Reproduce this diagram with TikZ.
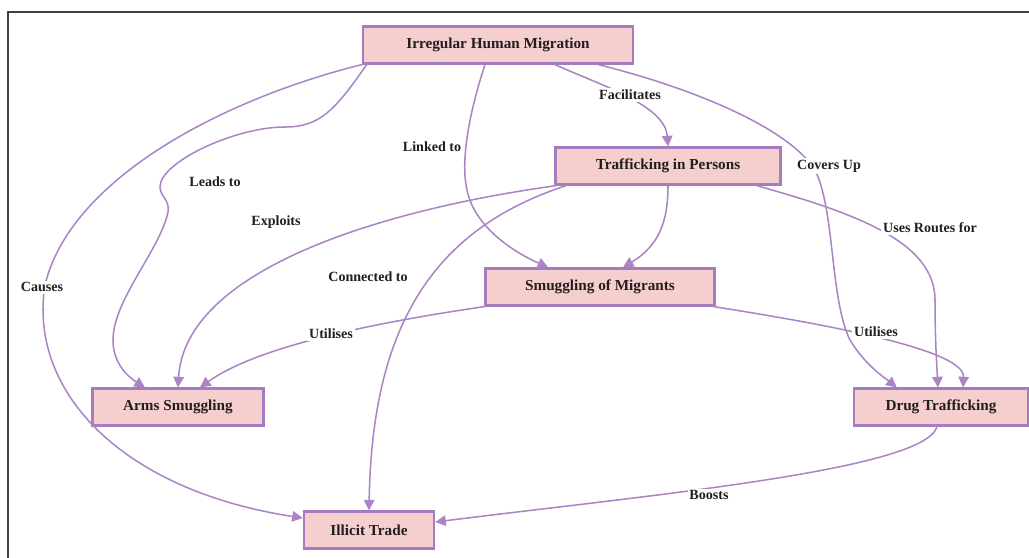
\documentclass[tikz,border=0pt]{standalone}
\usepackage{fontspec}
\setmainfont{Liberation Serif}
\usetikzlibrary{arrows.meta,calc}
\definecolor{boxfill}{RGB}{245,206,206}
\definecolor{boxline}{RGB}{165,125,190}
\definecolor{linkline}{RGB}{170,132,196}
\definecolor{inktext}{RGB}{35,30,30}

\begin{document}
\begin{tikzpicture}[x=0.03cm, y=-0.03cm,
    box/.style={draw=boxline, fill=boxfill, line width=2.2pt, minimum height=1.1cm,
        inner sep=0pt, text=inktext, font=\fontsize{13}{15}\selectfont\bfseries},
    link/.style={draw=linkline, line width=1.3pt, -{Triangle[length=9pt,width=9pt]}},
    lab/.style={fill=white, inner sep=1.5pt, text=inktext, font=\fontsize{12}{14}\selectfont\bfseries}]
    \useasboundingbox (0,0) rectangle (1029,558);

    % frame
    \draw[line width=1.2pt, black!75] (8,558) -- (8,12) -- (1029,12);

    % boxes
    \node[box, minimum width=8.1cm]  (ihm)     at (498,45)  {Irregular Human Migration};
    \node[box, minimum width=6.75cm] (tip)     at (668,166) {Trafficking in Persons};
    \node[box, minimum width=6.87cm] (som)     at (600,287) {Smuggling of Migrants};
    \node[box, minimum width=5.13cm] (arms)    at (178,407) {Arms Smuggling};
    \node[box, minimum width=5.22cm] (drug)    at (941,407) {Drug Trafficking};
    \node[box, minimum width=3.9cm]  (illicit) at (369,530) {Illicit Trade};

    % links
    \draw[link] ($(ihm.south west)+(5,0)$) .. controls (335,110) and (320,127) .. (285,127)
        .. controls (235,127) and (160,162) .. (160,187)
        .. controls (160,196) and (170,200) .. (168,212)
        .. controls (160,250) and (113,300) .. (113,340)
        .. controls (113,365) and (130,378) .. ($(arms.north)+(-33,0)$);
    \draw[link] (ihm.south west) .. controls (220,100) and (70,180) .. (45,285)
        .. controls (28,390) and (120,490) .. ($(illicit.west)+(0,-12)$);
    \draw[link] ($(ihm.south)+(-13,0)$) .. controls (470,110) and (460,160) .. (467,190)
        .. controls (475,230) and (520,255) .. ($(som.north west)+(64,0)$);
    \draw[link] ($(ihm.south)+(57,0)$) .. controls (600,85) and (665,105) .. (tip.north);
    \draw[link] ($(ihm.south east)+(-36,0)$) .. controls (700,90) and (790,130) .. (815,170)
        .. controls (835,210) and (830,300) .. (850,340)
        .. controls (865,365) and (885,378) .. ($(drug.north west)+(44,0)$);
    \draw[link] (tip.south) .. controls (668,220) and (660,245) .. ($(som.north)+(23,0)$);
    \draw[link] ($(tip.south west)+(2,0)$) .. controls (380,210) and (185,270) .. (arms.north);
    \draw[link] ($(tip.south west)+(12,0)$) .. controls (430,230) and (372,330) .. (illicit.north);
    \draw[link] ($(tip.south east)+(-25,0)$) .. controls (850,212) and (935,240) .. (935,300)
        .. controls (935,340) and (937,370) .. ($(drug.north)+(-3,0)$);
    \draw[link] (som.south west) .. controls (380,322) and (260,345) .. ($(arms.north)+(22,0)$);
    \draw[link] ($(som.south east)+(-2,0)$) .. controls (830,325) and (965,350) .. ($(drug.north)+(22,0)$);
    \draw[link] ($(drug.south)+(-4,0)$) .. controls (925,470) and (650,495) .. ($(illicit.east)+(0,-8)$);

    % labels
    \node[lab] (leads)   at (215,182) {Leads to};
    \node[lab] (causes)  at (42,287)  {Causes};
    \node[lab] (linked)  at (432,147) {Linked to};
    \node[lab] (facil)   at (630,95)  {Facilitates};
    \node[lab] (covers)  at (829,166) {Covers Up};
    \node[lab] (exploit) at (276,222) {Exploits};
    \node[lab] (conn)    at (368,277) {Connected to};
    \node[lab] (routes)  at (930,228) {Uses Routes for};
    \node[lab] (utilA)   at (331,334) {Utilises};
    \node[lab] (utilB)   at (876,332) {Utilises};
    \node[lab] (boosts)  at (709,495) {Boosts};
\end{tikzpicture}
\end{document}
